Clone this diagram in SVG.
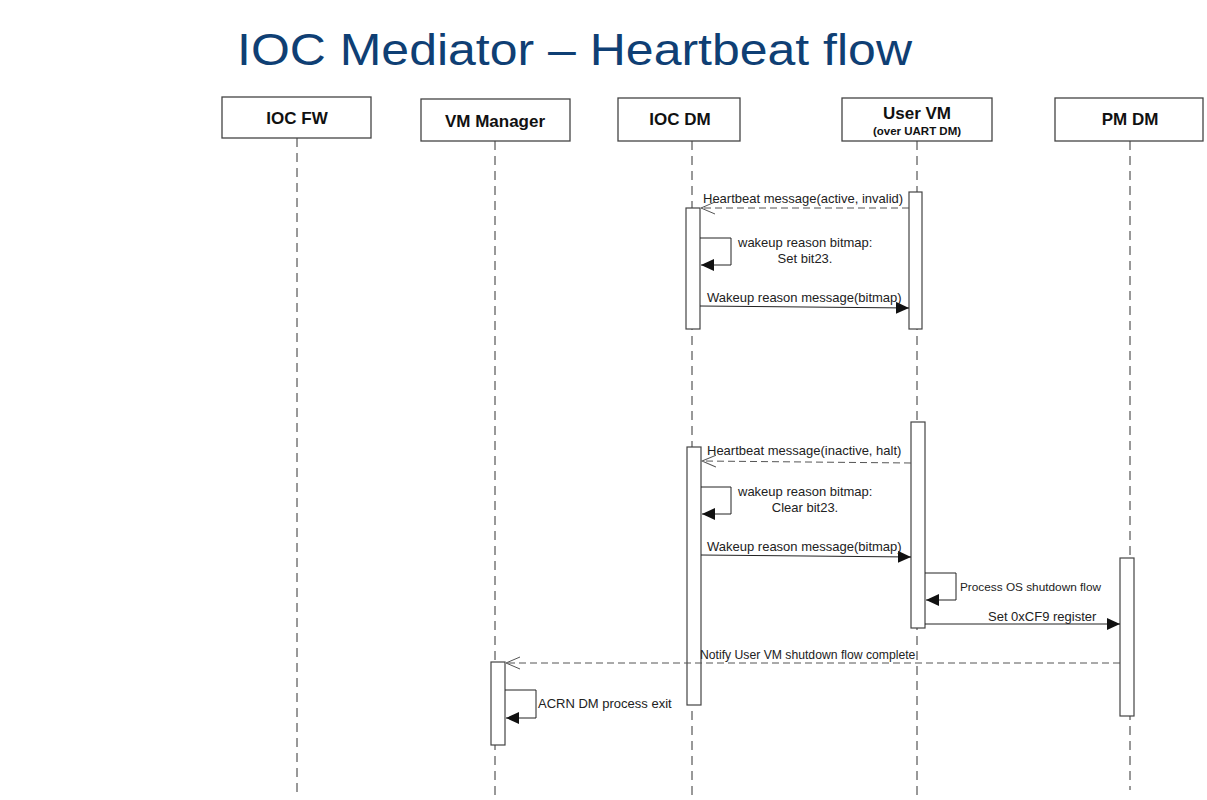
<svg xmlns="http://www.w3.org/2000/svg" width="1207" height="800" viewBox="0 0 1207 800">
<style>
.hdr{fill:#fff;stroke:#444;stroke-width:1.3}
.hl{font-family:"Liberation Sans",Arial,sans-serif;font-weight:bold;font-size:17px;fill:#111;text-anchor:middle}
.hs{font-family:"Liberation Sans",Arial,sans-serif;font-weight:bold;font-size:11.5px;fill:#111;text-anchor:middle}
.life{stroke:#333;stroke-width:1;stroke-dasharray:9,6;fill:none}
.act{fill:#fff;stroke:#444;stroke-width:1.2}
.msg{stroke:#222;stroke-width:1;fill:none}
.dsh{stroke:#555;stroke-width:1;stroke-dasharray:7,4;fill:none}
.lbl{font-family:"Liberation Sans",Arial,sans-serif;font-size:13px;fill:#222}
.lblc{font-family:"Liberation Sans",Arial,sans-serif;font-size:13px;fill:#222;text-anchor:middle}
</style>
<defs>
<marker id="fill" markerWidth="14" markerHeight="12" refX="13" refY="6" orient="auto" markerUnits="userSpaceOnUse">
<path d="M0,0 L13,6 L0,12 Z" fill="#111"/>
</marker>
<marker id="open" markerWidth="16" markerHeight="14" refX="14" refY="7" orient="auto" markerUnits="userSpaceOnUse">
<path d="M0,1 L14,7 L0,13" fill="none" stroke="#555" stroke-width="1"/>
</marker>
</defs>
<rect width="1207" height="800" fill="#fff"/>
<text x="237" y="65" font-family="'Liberation Sans',Arial,sans-serif" font-size="45" fill="#0f3f74" textLength="675" lengthAdjust="spacingAndGlyphs">IOC Mediator – Heartbeat flow</text>

<g id="lifelines">
<line class="life" x1="297" y1="138" x2="297" y2="798"/>
<line class="life" x1="495" y1="141" x2="495" y2="800"/>
<line class="life" x1="692" y1="141" x2="692" y2="800"/>
<line class="life" x1="917" y1="141" x2="917" y2="800"/>
<line class="life" x1="1130" y1="141" x2="1130" y2="790"/>
</g>

<g id="ioc-fw"><rect class="hdr" x="222" y="97" width="149" height="41"/><text class="hl" x="297" y="124">IOC FW</text></g>
<g id="vm-manager"><rect class="hdr" x="421" y="99" width="149" height="42"/><text class="hl" x="495" y="127">VM Manager</text></g>
<g id="ioc-dm"><rect class="hdr" x="618" y="98" width="122" height="43"/><text class="hl" x="680" y="125">IOC DM</text></g>
<g id="user-vm"><rect class="hdr" x="842" y="98" width="150" height="43"/><text class="hl" x="917" y="119">User VM</text><text class="hs" x="917" y="135">(over UART DM)</text></g>
<g id="pm-dm"><rect class="hdr" x="1055" y="98" width="148" height="43"/><text class="hl" x="1130" y="125">PM DM</text></g>

<g id="activations">
<rect class="act" x="909" y="192" width="13" height="137"/>
<rect class="act" x="686" y="208" width="14" height="121"/>
<rect class="act" x="911" y="422" width="14" height="206"/>
<rect class="act" x="687" y="447" width="14" height="258"/>
<rect class="act" x="1120" y="558" width="14" height="158"/>
<rect class="act" x="491" y="662" width="14" height="83"/>
</g>

<g id="connectors">
<line class="dsh" x1="909" y1="208" x2="701" y2="208" marker-end="url(#open)"/>
<path class="msg" d="M700,238 H731 V265 H701" marker-end="url(#fill)"/>
<line class="msg" x1="700" y1="306" x2="909" y2="308" marker-end="url(#fill)"/>
<line class="dsh" x1="911" y1="463" x2="702" y2="461" marker-end="url(#open)"/>
<path class="msg" d="M701,487 H731 V514 H702" marker-end="url(#fill)"/>
<line class="msg" x1="701" y1="555" x2="911" y2="557" marker-end="url(#fill)"/>
<path class="msg" d="M925,573 H956 V600 H926" marker-end="url(#fill)"/>
<line class="msg" x1="925" y1="624" x2="1120" y2="624" marker-end="url(#fill)"/>
<line class="dsh" x1="1120" y1="663" x2="506" y2="663" marker-end="url(#open)"/>
<path class="msg" d="M505,690 H536 V718 H506" marker-end="url(#fill)"/>
</g>

<g id="labels">
<text class="lbl" x="703" y="203">Heartbeat message(active, invalid)</text>
<text class="lbl" x="738" y="247">wakeup reason bitmap:</text>
<text class="lblc" x="805" y="263">Set bit23.</text>
<text class="lbl" x="707" y="302">Wakeup reason message(bitmap)</text>
<text class="lbl" x="707" y="455">Heartbeat message(inactive, halt)</text>
<text class="lbl" x="738" y="496">wakeup reason bitmap:</text>
<text class="lblc" x="805" y="512">Clear bit23.</text>
<text class="lbl" x="707" y="551">Wakeup reason message(bitmap)</text>
<text class="lbl" x="960" y="591" style="font-size:11.8px">Process OS shutdown flow</text>
<text class="lbl" x="988" y="621">Set 0xCF9 register</text>
<text class="lbl" x="700" y="659" style="font-size:12.2px">Notify User VM shutdown flow complete</text>
<text class="lbl" x="538" y="708">ACRN DM process exit</text>
</g>
</svg>
